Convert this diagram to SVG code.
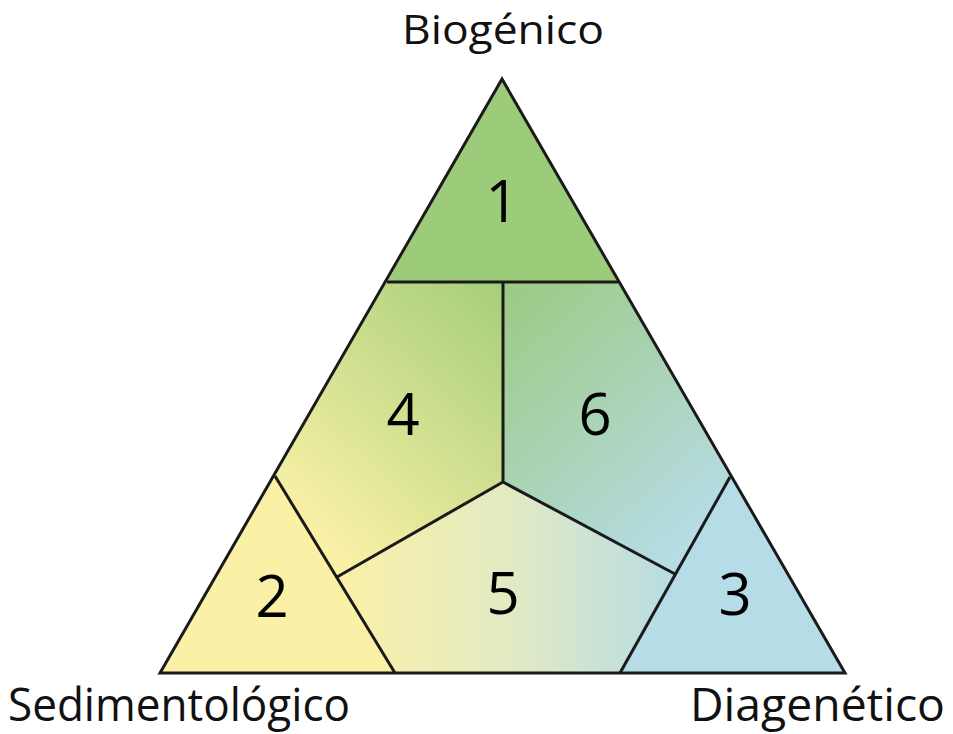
<svg xmlns="http://www.w3.org/2000/svg" width="953" height="734" viewBox="0 0 953 734">
<style>
.edge{fill:none;stroke:#1a1a1a;stroke-width:3;stroke-linejoin:miter}
.num{font-family:"Open Sans","Noto Sans",sans-serif;font-size:58px;fill:#000;text-anchor:middle}
.lbl{font-family:"Open Sans","Noto Sans",sans-serif;fill:#111}
</style>
<defs>
<linearGradient id="g4" x1="500" y1="290" x2="290" y2="520" gradientUnits="userSpaceOnUse">
<stop offset="0" stop-color="#a7cf7b"/>
<stop offset="1" stop-color="#fbf1a6"/>
</linearGradient>
<linearGradient id="g6" x1="506" y1="290" x2="715" y2="520" gradientUnits="userSpaceOnUse">
<stop offset="0" stop-color="#9dca84"/>
<stop offset="1" stop-color="#b6dce6"/>
</linearGradient>
<linearGradient id="g5" x1="340" y1="0" x2="675" y2="0" gradientUnits="userSpaceOnUse">
<stop offset="0" stop-color="#faf1a8"/>
<stop offset="0.5" stop-color="#e3eac2"/>
<stop offset="1" stop-color="#b7dce4"/>
</linearGradient>
</defs>
<g id="node1"><polygon points="502,79 387,282 618,282" fill="#9ccb79"/><text class="num" x="502" y="222">1</text></g>
<g id="node2"><polygon points="275,476 395,673 160,673" fill="#fbf1a6"/><text class="num" x="272" y="617">2</text></g>
<g id="node3"><polygon points="730,477 845,673 620,673" fill="#b6dce8"/><text class="num" x="735" y="615">3</text></g>
<g id="node4"><polygon points="387,282 503,282 503,482 337,577 275,476" fill="url(#g4)"/><text class="num" x="403" y="435">4</text></g>
<g id="node5"><polygon points="337,577 503,482 675,574 620,673 395,673" fill="url(#g5)"/><text class="num" x="503" y="614">5</text></g>
<g id="node6"><polygon points="503,282 618,282 730,477 675,574 503,482" fill="url(#g6)"/><text class="num" x="595" y="435">6</text></g>
<g id="connectors">
<polygon class="edge" points="502,79 160,673 845,673"/>
<line class="edge" x1="387" y1="282" x2="618" y2="282"/>
<line class="edge" x1="503" y1="282" x2="503" y2="482"/>
<line class="edge" x1="503" y1="482" x2="337" y2="577"/>
<line class="edge" x1="503" y1="482" x2="675" y2="574"/>
<line class="edge" x1="275" y1="476" x2="395" y2="673"/>
<line class="edge" x1="730" y1="477" x2="620" y2="673"/>
</g>
<g id="labels">
<text class="lbl" x="402" y="44" font-size="41" textLength="202" lengthAdjust="spacingAndGlyphs">Biogénico</text>
<text class="lbl" x="8" y="721" font-size="45" textLength="342" lengthAdjust="spacingAndGlyphs">Sedimentológico</text>
<text class="lbl" x="690" y="721" font-size="45" textLength="255" lengthAdjust="spacingAndGlyphs">Diagenético</text>
</g>
</svg>
